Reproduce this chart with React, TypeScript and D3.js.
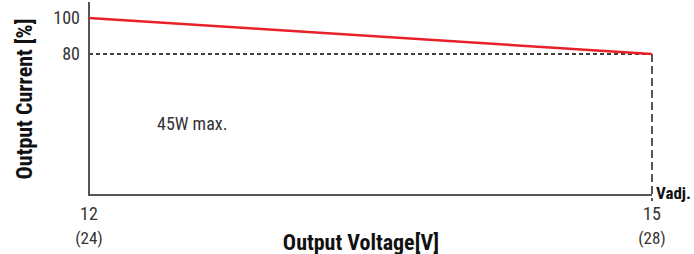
import * as d3 from 'd3';
import React from 'react';

// derating curve: output current vs output voltage
const voltages = [12, 15];
const voltageAlt = ['(24)', '(28)'];
const currents = [100, 80];
const currentTicks = [100, 80];
const noteText = '45W max.';

const W = 694;
const H = 254;
const left = 89;
const right = 652;
const axisY = 195;
const top = 2;

const font = "'Liberation Sans Narrow', 'Roboto Condensed', 'Arial Narrow', Roboto, sans-serif";

export default function App() {
    const x = d3.scaleLinear().domain([voltages[0], voltages[1]]).range([left, right]);
    const y = d3.scaleLinear().domain([80, 100]).range([54, 18]);

    const pts: [number, number][] = voltages.map((v, i) => [v, currents[i]]);
    const line = d3.line<[number, number]>().x(d => x(d[0])).y(d => y(d[1]));

    const ratedLevel = currents[1];
    const vmax = voltages[1];

    return (
        <div style={{ position: 'absolute', left: 0, top: 0 }}>
            <svg width={W} height={H} style={{ display: 'block', fontFamily: font }}>
                <rect width={W} height={H} fill="#fff" />
                {/* 80% dashed reference */}
                <line x1={x(voltages[0])} x2={x(vmax)} y1={y(ratedLevel)} y2={y(ratedLevel)}
                    stroke="#000" strokeWidth={1.6} strokeDasharray="4,3" />
                {/* Vadj dashed drop */}
                <line x1={x(vmax)} x2={x(vmax)} y1={y(ratedLevel)} y2={axisY + 6}
                    stroke="#000" strokeWidth={1.3} strokeDasharray="8,4" />
                {/* axes */}
                <line x1={left} x2={left} y1={top} y2={axisY + 1} stroke="#555" strokeWidth={2} />
                <line x1={left} x2={x(vmax)} y1={axisY} y2={axisY} stroke="#555" strokeWidth={2} />
                <path d={line(pts) || ''} fill="none" stroke="#e8202a" strokeWidth={2.5} />
                {currentTicks.map(t => (
                    <text key={t} x={80} y={y(t)} dy="0.36em" textAnchor="end" fontSize={18} fill="#333">{t}</text>
                ))}
                {voltages.map((v, i) => (
                    <g key={v}>
                        <text x={x(v)} y={220} textAnchor="middle" fontSize={18} fill="#333">{v}</text>
                        <text x={x(v)} y={244} textAnchor="middle" fontSize={17} fill="#333">{voltageAlt[i]}</text>
                    </g>
                ))}
                <text x={656} y={199} fontSize={17} fontWeight="bold" fill="#111">Vadj.</text>
                <text x={157} y={130} fontSize={18} fill="#333">{noteText}</text>
                <text x={361} y={250} textAnchor="middle" fontSize={22} fontWeight="bold" fill="#111">Output Voltage[V]</text>
                <text transform={`translate(32,${99}) rotate(-90)`} textAnchor="middle" fontSize={22}
                    fontWeight="bold" fill="#111">Output Current [%]</text>
            </svg>
        </div>
    );
}
